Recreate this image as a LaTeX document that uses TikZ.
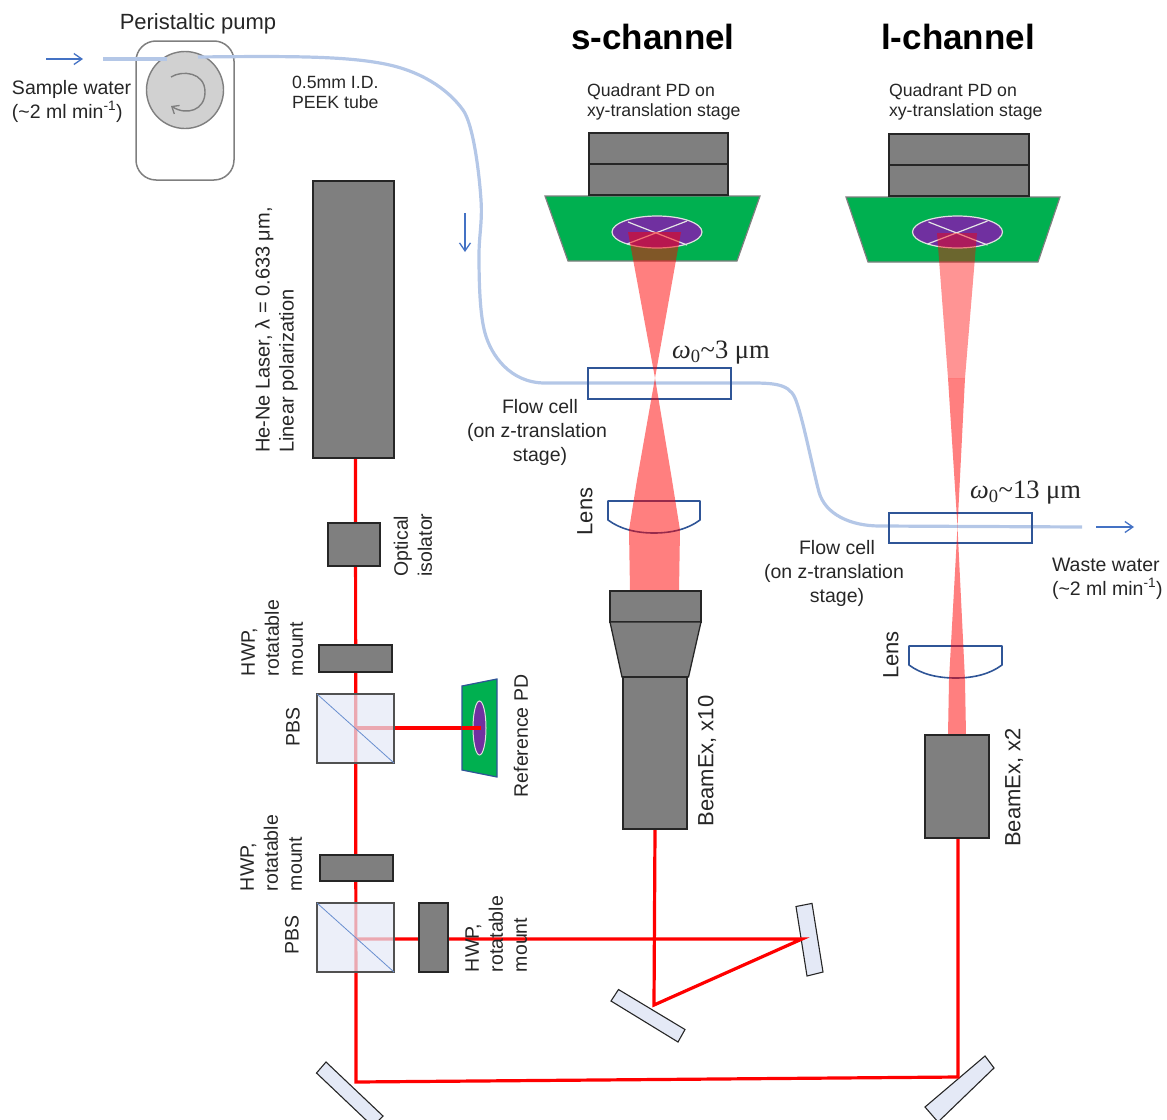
\documentclass[tikz,border=0pt]{standalone}
\usepackage{fontspec}
\setmainfont{Liberation Sans}
\newfontfamily\mathish{Liberation Serif}
\usetikzlibrary{arrows.meta,shapes.geometric}
\definecolor{gfill}{HTML}{7F7F7F}
\definecolor{gline}{HTML}{262626}
\definecolor{tube}{HTML}{B4C7E7}
\definecolor{flow}{HTML}{2F5597}
\definecolor{arrowblue}{HTML}{4472C4}
\definecolor{pdgreen}{HTML}{00B050}
\definecolor{pdpurple}{HTML}{7030A0}
\definecolor{glass}{HTML}{E4E9F6}
\definecolor{txt}{HTML}{262626}
\tikzset{
  grey part/.style={draw=gline,fill=gfill,line width=1.3pt,inner sep=0pt,outer sep=0pt},
  glass part/.style={draw=gline,fill=glass,line width=1.1pt},
  cube/.style={draw=gline!80,fill=glass,fill opacity=.72,line width=1.1pt,inner sep=0pt,outer sep=0pt},
  splitter/.style={draw=arrowblue!80,line width=.8pt},
  beam/.style={draw=red,line width=3.2pt},
  spot/.style={fill=red,fill opacity=.5,draw=none},
  tubing/.style={draw=tube,line width=3.2pt},
  cell/.style={draw=flow,line width=1.6pt,inner sep=0pt,outer sep=0pt},
  lensbody/.style={draw=flow,line width=1.6pt,line join=round},
  flowarrow/.style={draw=arrowblue,line width=1.3pt,-{Straight Barb[length=8pt,width=11pt,line width=1.3pt]}},
  detector/.style={draw=gfill,fill=pdgreen,line width=1.2pt},
  caption/.style={text=txt,inner sep=0pt,outer sep=0pt,font=\fontsize{19.5}{24}\selectfont},
  small caption/.style={caption,font=\fontsize{17.7}{20}\selectfont},
  big caption/.style={caption,font=\fontsize{22}{24}\selectfont},
  side caption/.style={caption,rotate=90,align=left},
  head caption/.style={text=black,inner sep=0pt,font=\fontsize{35}{40}\selectfont\bfseries},
  waist/.style={text=txt,inner sep=0pt,anchor=west,font=\fontsize{26.5}{28}\mathish},
}
\begin{document}
\begin{tikzpicture}[x=1pt,y=-1pt]
\useasboundingbox (0,0) rectangle (1167,1119);
\clip (0,0) rectangle (1167,1119);

%--- beam way points
\coordinate (laserout) at (355.5,458);
\coordinate (corner1) at (356,1082);
\coordinate (corner2) at (958,1077);
\coordinate (beamexIb) at (958,838);
\coordinate (pbsA) at (355.5,728);
\coordinate (refspot) at (481,728);
\coordinate (pbsB) at (355.5,939);
\coordinate (mirrorR) at (802,939);
\coordinate (mirrorL) at (654,1005);
\coordinate (beamexSb) at (655,829);

%--- mirrors
\draw[glass part] (796,906.5) -- (812,903.4) -- (823,972) -- (807,976) -- cycle;
\draw[glass part] (618.5,989.5) -- (611,1001) -- (678,1042) -- (685,1029.5) -- cycle;
\draw[glass part] (326,1062) -- (316.5,1073) -- (373,1126.6) -- (383,1116) -- cycle;
\draw[glass part] (985,1056) -- (994,1068) -- (938,1122) -- (925,1107) -- cycle;

%--- laser beams
\draw[beam] (laserout) -- (corner1) -- (corner2) -- (beamexIb);
\draw[beam] (pbsA) -- (refspot);
\draw[beam] (pbsB) -- (mirrorR) -- (mirrorL) -- (beamexSb);

%--- flow tube and pump
\node[draw=gfill,line width=1.5pt,rounded corners=20pt,minimum width=98pt,minimum height=139pt,inner sep=0pt] (pump) at (185,110.5) {};
\node[circle,draw=gfill,fill=black!18,line width=1.4pt,minimum size=77pt,inner sep=0pt] (rotor) at (185,90) {};
\draw[gfill,line width=1.4pt,-{Straight Barb[length=6pt,width=10pt,line width=1.3pt]}]
  (171,77) .. controls (182,70) and (205,72) .. (205,92) .. controls (205,110) and (187,116) .. (171,106);
\coordinate (tubein) at (103,59);
\coordinate (rotorin) at (167,59);
\coordinate (rotorout) at (198,57);
\coordinate (tubeend) at (1082,527);
\draw[tubing] (tubein) -- (rotorin);
\draw[tubing] (rotorout) .. controls (290,56) and (345,56) .. (385,64)
  .. controls (420,71) and (447,88) .. (463,110)
  .. controls (473,124) and (479,170) .. (481,200)
  .. controls (482.5,222) and (479,235) .. (479,255)
  .. controls (479,285) and (480,315) .. (485,333)
  .. controls (491,355) and (510,383) .. (545,383)
  -- (740,383) .. controls (770,383) and (788,382) .. (795,398)
  .. controls (802,414) and (813,470) .. (819,492)
  .. controls (825,514) and (850,526) .. (880,526) -- (tubeend);
\draw[flowarrow] (46,59) -- (83,59);
\draw[flowarrow] (465,213) -- (465,252);
\draw[flowarrow] (1096,527) -- (1134,527);

%--- flow cells and lenses
\node[cell,minimum width=143pt,minimum height=31pt] (cellS) at (659.5,383.5) {};
\node[cell,minimum width=143pt,minimum height=30pt] (cellI) at (960.5,528) {};
\draw[lensbody] (608,501) -- (700,501) -- (700,520) .. controls (688,529) and (672,533) .. (654,533) .. controls (636,533) and (620,529) .. (608,520) -- cycle;
\draw[lensbody] (909,646) -- (1002,646) -- (1002,665) .. controls (990,674) and (974,678) .. (955.5,678) .. controls (937,678) and (921,674) .. (909,665) -- cycle;

%--- detectors
\draw[detector] (545,196) -- (760,196) -- (737,261) -- (568,261) -- cycle;
\draw[detector] (846,197) -- (1060,197) -- (1038,262) -- (868,262) -- cycle;
\foreach \cx/\cn in {657/S,957.5/I}{
  \node[ellipse,draw=black!12,fill=pdpurple,line width=1.2pt,minimum width=90pt,minimum height=32pt,inner sep=0pt] (quad\cn) at (\cx,232) {};
  \draw[black!10,line width=1.2pt] (\cx-29,222) -- (\cx+30,245) (\cx+30,221) -- (\cx-30,244);
}
\draw[detector,draw=flow] (462,686) -- (497,679) -- (497,777) -- (462,770) -- cycle;
\node[ellipse,draw=black!12,fill=pdpurple,line width=1pt,minimum width=13pt,minimum height=54pt,inner sep=0pt] (quadR) at (479.5,728) {};
\draw[red,line width=3.2pt] (462,728) -- (481,728);

%--- focused beams
\fill[spot] (628,232) -- (681,232) -- (655,378) -- cycle;
\fill[spot] (655,378) -- (672,480) -- (680,530) -- (679,591) -- (630,591) -- (629,530) -- (637,480) -- cycle;
\fill[red,fill opacity=.42] (937,233) -- (977,233) -- (965,378) -- (948,378) -- cycle;
\fill[spot] (948,378) -- (965,378) -- (957.5,527) -- cycle;
\fill[spot] (957.5,527) -- (965,680) -- (966,735) -- (948,735) -- (949,680) -- cycle;

%--- optics
\node[grey part,minimum width=81pt,minimum height=277pt] (laser) at (353.5,319.5) {};
\node[grey part,minimum width=52pt,minimum height=43pt] (isolator) at (354,544.5) {};
\node[grey part,minimum width=73pt,minimum height=27pt] (hwpA) at (355.5,658.5) {};
\node[cube,minimum width=77pt,minimum height=69pt] (pbsBoxA) at (355.5,728.5) {};
\draw[splitter] (pbsBoxA.north west) -- (pbsBoxA.south east);
\node[grey part,minimum width=73pt,minimum height=26pt] (hwpB) at (356.5,868) {};
\node[cube,minimum width=77pt,minimum height=69pt] (pbsBoxB) at (355.5,937.5) {};
\draw[splitter] (pbsBoxB.north west) -- (pbsBoxB.south east);
\node[grey part,minimum width=29pt,minimum height=69pt] (hwpC) at (433.5,937.5) {};

%--- cameras and expanders
\node[grey part,minimum width=139pt,minimum height=31pt] (qpdSa) at (658.5,148.5) {};
\node[grey part,minimum width=139pt,minimum height=31pt] (qpdSb) at (658.5,179.5) {};
\node[grey part,minimum width=140pt,minimum height=31pt] (qpdIa) at (959,149.5) {};
\node[grey part,minimum width=140pt,minimum height=31pt] (qpdIb) at (959,180.5) {};
\node[grey part,minimum width=91pt,minimum height=31pt] (objA) at (655.5,606.5) {};
\draw[grey part] (610,622) -- (701,622) -- (688.5,677) -- (622,677) -- cycle;
\node[grey part,minimum width=64pt,minimum height=152pt] (beamexS) at (655,753) {};
\node[grey part,minimum width=64pt,minimum height=103pt] (beamexI) at (957,786.5) {};

%--- labels
\node[big caption] (tPump) at (198,23.5) {Peristaltic pump};
\node[caption,align=left,anchor=north west] (tSample) at (12,80) {Sample water\\(\textasciitilde 2 ml min\textsuperscript{-1})};
\node[small caption,align=left,anchor=north west] (tPeek) at (292,76) {0.5mm I.D.\\PEEK tube};
\node[head caption] (tS) at (653,37) {s-channel};
\node[head caption] (tL) at (958,37) {l-channel};
\node[small caption,align=left,anchor=north west] (tQs) at (587,84) {Quadrant PD on\\xy-translation stage};
\node[small caption,align=left,anchor=north west] (tQi) at (889,84) {Quadrant PD on\\xy-translation stage};
\node[waist] (tW1) at (672,353) {{\itshape ω}\textsubscript{0}\textasciitilde 3 μm};
\node[waist] (tW2) at (970,493) {{\itshape ω}\textsubscript{0}\textasciitilde 13 μm};
\node[caption,align=center] (tFlowS) at (537,432) {\hspace*{6pt}Flow cell\\(on z-translation\\\hspace*{6pt}stage)};
\node[caption,align=center] (tFlowI) at (834,573) {\hspace*{6pt}Flow cell\\(on z-translation\\\hspace*{6pt}stage)};
\node[caption,align=left,anchor=north west] (tWaste) at (1052,558) {Waste water\\(\textasciitilde 2 ml min\textsuperscript{-1})};
\node[side caption,font=\fontsize{20}{24}\selectfont] (tLaser) at (276.5,330) {He-Ne Laser, λ = 0.633 μm,\\Linear polarization};
\node[side caption] (tIso) at (413,545) {Optical\\isolator};
\node[side caption,anchor=south west] (tHwpA) at (303,676) {HWP,\\rotatable\\mount};
\node[side caption,anchor=south west] (tHwpB) at (302,891) {HWP,\\rotatable\\mount};
\node[side caption,anchor=south west] (tHwpC) at (527,972) {HWP,\\rotatable\\mount};
\node[caption,rotate=90] (tPbsA) at (293,727) {PBS};
\node[caption,rotate=90] (tPbsB) at (292,935) {PBS};
\node[caption,rotate=90] (tRef) at (521,736) {Reference PD};
\node[big caption,rotate=90] (tExS) at (707,761) {BeamEx, x10};
\node[big caption,rotate=90] (tExI) at (1014,787.5) {BeamEx, x2};
\node[big caption,rotate=90] (tLensS) at (585,511.5) {Lens};
\node[big caption,rotate=90] (tLensI) at (891,655) {Lens};
\end{tikzpicture}
\end{document}
